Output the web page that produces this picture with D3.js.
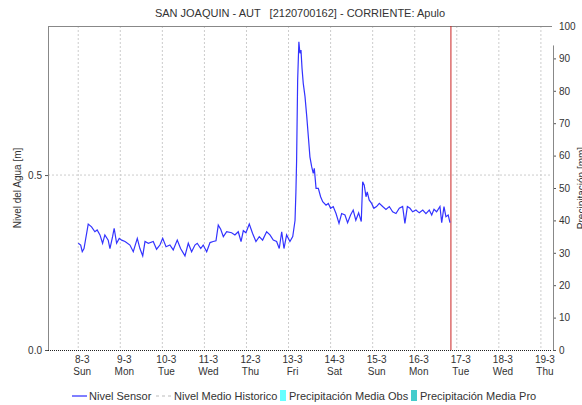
<!DOCTYPE html>
<html>
<head>
<meta charset="utf-8">
<script src="https://cdn.jsdelivr.net/npm/d3@7"></script>
<style>
  body { margin: 0; background: #fff; }
  svg text { font-family: "Liberation Sans", Arial, sans-serif; fill: #333; }
</style>
</head>
<body>
<svg width="582" height="405"></svg>
<script>
// titulo y leyenda
const titulo = "SAN JOAQUIN - AUT   [2120700162] - CORRIENTE: Apulo";
const leyenda = ["Nivel Sensor", "Nivel Medio Historico", "Precipitación Media Obs", "Precipitación Media Pro"];

// horas desde el 8-3 00:00 y nivel del sensor [m]
const horas = [0, 1.4, 2.3, 3.3, 5.7, 7.6, 9.5, 10.8, 12.4, 13.9, 15.2, 17.1, 18.1, 19.6, 20.5, 21.9, 23.4,
  24.8, 26.7, 29.5, 31.4, 33.7, 35.2, 36.8, 38.1, 40.0, 42.8, 44.7, 46.6, 48.2, 50.1, 52.3, 54.2, 56.5,
  58.4, 60.9, 62.8, 64.7, 66.6, 67.9, 69.9, 71.3, 73.3, 75.2, 77.0, 78.6, 79.9, 81.3, 82.8, 84.7, 87.5,
  89.4, 91.3, 92.9, 94.2, 95.7, 97.6, 99.5, 101.4, 103.3, 105.2, 107.5, 109.4, 111.3, 113.2, 114.7,
  116.1, 117.4, 118.9, 120.8, 122.4, 123.7, 124.2, 124.6, 125.2, 125.9, 126.5, 127.1, 127.7, 128.4,
  129.4, 130.4, 131.3, 132.2, 133.2, 134.1, 134.7, 135.7, 137.0, 138.3, 139.5, 141.4, 142.7, 144.0,
  145.5, 147.1, 148.8, 150.3, 152.2, 153.7, 155.4, 156.9, 158.4, 160.0, 161.5, 162.3, 163.2, 164.2,
  164.9, 166.0, 167.4, 168.7, 170.2, 171.8, 173.7, 175.6, 177.5, 179.4, 181.3, 183.2, 185.1, 186.4,
  187.8, 189.3, 190.8, 192.7, 194.6, 196.6, 198.4, 200.3, 201.7, 203.0, 204.5, 206.4, 207.4, 208.7,
  209.8, 211.1, 212.1];
const nivel = [0.305, 0.30, 0.281, 0.29, 0.36, 0.352, 0.338, 0.343, 0.329, 0.305, 0.329, 0.314, 0.29,
  0.324, 0.348, 0.305, 0.319, 0.314, 0.31, 0.30, 0.281, 0.319, 0.29, 0.269, 0.31, 0.305, 0.31, 0.288,
  0.30, 0.319, 0.295, 0.30, 0.286, 0.314, 0.29, 0.269, 0.305, 0.281, 0.30, 0.305, 0.29, 0.30, 0.281,
  0.307, 0.31, 0.312, 0.357, 0.345, 0.324, 0.338, 0.335, 0.329, 0.338, 0.31, 0.341, 0.335, 0.36, 0.333,
  0.31, 0.324, 0.314, 0.338, 0.329, 0.314, 0.31, 0.29, 0.338, 0.29, 0.329, 0.31, 0.324, 0.37, 0.45,
  0.54, 0.77, 0.881, 0.848, 0.857, 0.805, 0.762, 0.724, 0.667, 0.61, 0.552, 0.524, 0.505, 0.519, 0.462,
  0.462, 0.438, 0.424, 0.414, 0.419, 0.405, 0.41, 0.39, 0.362, 0.39, 0.386, 0.364, 0.386, 0.40, 0.371,
  0.392, 0.367, 0.481, 0.471, 0.438, 0.452, 0.429, 0.419, 0.405, 0.41, 0.419, 0.41, 0.402, 0.41, 0.395,
  0.39, 0.405, 0.41, 0.362, 0.41, 0.405, 0.395, 0.40, 0.392, 0.40, 0.39, 0.40, 0.386, 0.402, 0.395,
  0.41, 0.364, 0.41, 0.381, 0.386, 0.364];

const inicio = new Date(2020, 2, 8, 0, 0);
const ahora = new Date(2020, 2, 16, 20, 40);
const ticksNivel = [0, 0.5];
const ticksPrecip = [0, 10, 20, 30, 40, 50, 60, 70, 80, 90, 100];

const serie = horas.map((h, i) => ({ t: new Date(inicio.getTime() + h * 3600e3), v: nivel[i] }));

const svg = d3.select("svg");
const mLeft = 48, mRight = 552, mTop = 26, mBottom = 350;

const x = d3.scaleTime()
  .domain([new Date(2020, 2, 7, 6, 45), new Date(2020, 2, 19, 6, 20)])
  .range([mLeft, mRight]);
const y = d3.scaleLinear().domain([0, 0.926]).range([mBottom, mTop]);
const y2 = d3.scaleLinear().domain([0, 100]).range([mBottom, mTop]);

const dias = d3.timeDay.range(new Date(2020, 2, 8), new Date(2020, 2, 20));

// grid
svg.append("g").selectAll("line")
  .data(dias)
  .join("line")
  .attr("x1", d => x(d)).attr("x2", d => x(d))
  .attr("y1", mTop).attr("y2", mBottom)
  .attr("stroke", "#ccc").attr("stroke-dasharray", "2,2");

svg.append("g").selectAll("line")
  .data(ticksNivel.filter(d => d > 0))
  .join("line")
  .attr("x1", mLeft).attr("x2", mRight)
  .attr("y1", d => y(d)).attr("y2", d => y(d))
  .attr("stroke", "#ccc").attr("stroke-dasharray", "2,2");

// frame
svg.append("line").attr("x1", mLeft).attr("x2", mRight).attr("y1", mTop + 0.5).attr("y2", mTop + 0.5)
  .attr("stroke", "#888");
svg.append("line").attr("x1", mLeft + 0.5).attr("x2", mLeft + 0.5).attr("y1", mTop).attr("y2", mBottom)
  .attr("stroke", "#888");

// left axis
const axL = svg.append("g").attr("transform", `translate(${mLeft},0)`)
  .call(d3.axisLeft(y).tickValues(ticksNivel).tickFormat(d3.format(".1f")).tickSize(3));
axL.select(".domain").remove();
axL.selectAll("line").attr("stroke", "#555");
axL.selectAll("text").attr("font-size", 10).attr("fill", "#333");

// right axis
const axR = svg.append("g").attr("transform", `translate(${mRight + 1},0)`)
  .call(d3.axisRight(y2).tickValues(ticksPrecip).tickSize(3));
axR.select(".domain").remove();
axR.selectAll(".tick").filter(d => d === 100).select("line").remove();
axR.selectAll("line").attr("stroke", "#555");
axR.selectAll("text").attr("font-size", 10).attr("fill", "#333");
svg.append("line").attr("x1", mRight + 1.5).attr("x2", mRight + 1.5)
  .attr("y1", y2(94)).attr("y2", mBottom).attr("stroke", "#888");

// bottom axis
svg.append("line").attr("x1", mLeft).attr("x2", mRight).attr("y1", mBottom + 0.5).attr("y2", mBottom + 0.5)
  .attr("stroke", "#222").attr("stroke-dasharray", "1,1");
const fmtDia = d3.timeFormat("%-d-%-m");
const fmtSem = d3.timeFormat("%a");
const tickX = svg.append("g").selectAll("g")
  .data(dias)
  .join("g")
  .attr("transform", d => `translate(${x(d) + 4},0)`);
tickX.append("text").attr("y", 363).attr("text-anchor", "middle").attr("font-size", 10).text(d => fmtDia(d));
tickX.append("text").attr("y", 375).attr("text-anchor", "middle").attr("font-size", 10).text(d => fmtSem(d));

// axis titles
svg.append("text")
  .attr("transform", `translate(21,${(mTop + mBottom) / 2}) rotate(-90)`)
  .attr("text-anchor", "middle").attr("font-size", 10)
  .text("Nivel del Agua [m]");
svg.append("text")
  .attr("transform", `translate(585,${(mTop + mBottom) / 2}) rotate(-90)`)
  .attr("text-anchor", "middle").attr("font-size", 10)
  .text("Precipitación [mm]");

// now line
svg.append("line").attr("x1", x(ahora)).attr("x2", x(ahora)).attr("y1", mTop).attr("y2", mBottom)
  .attr("stroke", "#c22").attr("stroke-width", 1);

// sensor line
const linea = d3.line().x(d => x(d.t)).y(d => y(d.v));
svg.append("path").datum(serie)
  .attr("d", linea)
  .attr("fill", "none").attr("stroke", "#3333ff").attr("stroke-width", 1.2);

// title
svg.append("text").attr("x", 300).attr("y", 17).attr("text-anchor", "middle").attr("font-size", 11)
  .style("white-space", "pre")
  .text(titulo);

// legend
const lg = svg.append("g");
lg.append("line").attr("x1", 72).attr("x2", 87).attr("y1", 396).attr("y2", 396).attr("stroke", "#0000ff");
lg.append("text").attr("x", 89).attr("y", 400).attr("font-size", 11).text(leyenda[0]);
lg.append("line").attr("x1", 156).attr("x2", 171).attr("y1", 396).attr("y2", 396)
  .attr("stroke", "#bbb").attr("stroke-dasharray", "3,3");
lg.append("text").attr("x", 174).attr("y", 400).attr("font-size", 11).text(leyenda[1]);
lg.append("rect").attr("x", 280).attr("y", 390).attr("width", 6).attr("height", 11).attr("fill", "#66ffff");
lg.append("text").attr("x", 289).attr("y", 400).attr("font-size", 11).text(leyenda[2]);
lg.append("rect").attr("x", 411).attr("y", 390).attr("width", 6).attr("height", 11).attr("fill", "#44cccc");
lg.append("text").attr("x", 420).attr("y", 400).attr("font-size", 11).text(leyenda[3]);
</script>
</body>
</html>
